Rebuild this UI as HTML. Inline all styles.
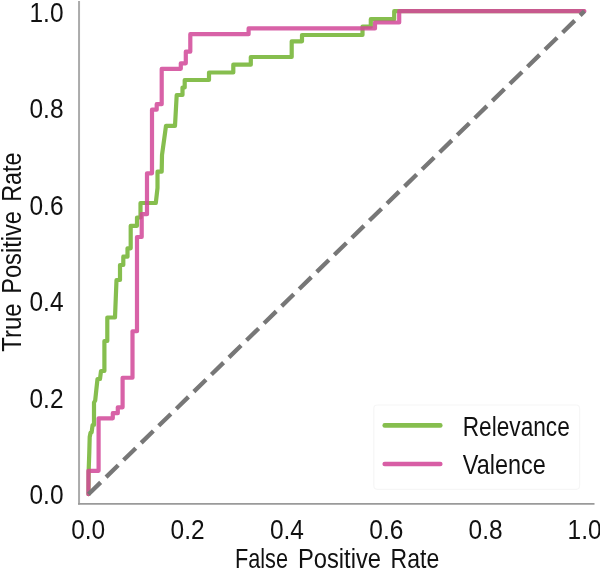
<!DOCTYPE html>
<html>
<head>
<meta charset="utf-8">
<title>ROC curve</title>
<style>
html,body{margin:0;padding:0;background:#fff;}
body{width:600px;height:569px;overflow:hidden;}
svg{display:block;will-change:transform;}
text{font-family:"Liberation Sans",sans-serif;fill:#111;}
</style>
</head>
<body>
<svg width="600" height="569" viewBox="0 0 600 569">
<rect x="0" y="0" width="600" height="569" fill="#ffffff"/>

<!-- spines -->
<line x1="79.05" y1="1" x2="79.05" y2="504.6" stroke="#ababab" stroke-width="2"/>
<line x1="78" y1="503.8" x2="594.5" y2="503.8" stroke="#9a9a9a" stroke-width="1.7"/>

<!-- legend box -->
<rect x="373.8" y="405" width="205.8" height="84.3" rx="3.5" ry="3.5" fill="#ffffff" stroke="#f6f6f6" stroke-width="1.2"/>

<!-- green curve (Relevance) -->
<path id="green" fill="none" stroke="#86be4e" stroke-width="4.2" stroke-linejoin="round" stroke-linecap="round"
 d="M88.5,494.2 L88.7,470 L89.3,452 L89.7,437 L90.6,432.5 H91.6 L92.6,425 H94 V402.5 L95.2,400.5 L96.3,390 L97.5,379 H100 L101,371 H104.4 V341 H107.3 V317.5 H115 L116.5,280 H120 V265 H123.3 V256.7 H127.5 V248.3 H130.7 V225.8 H137 V217.5 H140.5 V203 H155.8 L157.5,188 V171.7 H161.7 L162,155 L165,133.3 L166,125.8 H175 L176.7,95 H182.5 V87.5 H184.7 V80 H209 V72.5 H233.3 V64.7 H250.8 V57 H291.7 V41.3 H302 V35 H362.5 V26.7 H370.8 V19.2 H394.2 V11.2 H583.4"/>

<!-- pink curve (Valence) -->
<path id="pink" fill="none" stroke="#d24898" stroke-opacity="0.86" stroke-width="4.2" stroke-linejoin="round" stroke-linecap="round"
 d="M88.4,494.2 V470.8 H98.6 V418.3 H112.8 V413.2 H117.8 V407.3 H122.6 V377.75 H132.5 V331.25 H137 V237 H141.7 V214.2 H147 V173.3 H152 V109.7 H156.7 V104.2 H161.7 V68.8 H180.8 V63.3 H185.8 V51.7 H190.3 V34.2 H248.6 V28.4 H375 V22.5 H399.2 V11.2 H584.4"/>

<!-- diagonal -->
<line x1="88.5" y1="494.2" x2="584.4" y2="11.2" stroke="#777777" stroke-width="4.3" stroke-dasharray="16.95 7.56"/>

<!-- legend handles -->
<line x1="384.7" y1="425.4" x2="440.3" y2="425.4" stroke="#86be4e" stroke-width="4.6" stroke-linecap="round"/>
<line x1="384.7" y1="464" x2="440.3" y2="464" stroke="#d85ea5" stroke-width="4.6" stroke-linecap="round"/>

<!-- text words -->
<text x="235.00" y="568.4" font-size="27.5" textLength="53.01" lengthAdjust="spacingAndGlyphs">False</text>
<text x="297.90" y="568.4" font-size="27.5" textLength="83.19" lengthAdjust="spacingAndGlyphs">Positive</text>
<text x="390.60" y="568.4" font-size="27.5" textLength="48.59" lengthAdjust="spacingAndGlyphs">Rate</text>
<text x="462.70" y="435.8" font-size="27.5" textLength="107.10" lengthAdjust="spacingAndGlyphs">Relevance</text>
<text x="462.80" y="474.0" font-size="27.5" textLength="82.90" lengthAdjust="spacingAndGlyphs">Valence</text>
<text transform="translate(20.6,351.70) rotate(-90)" font-size="27.5" textLength="48.19" lengthAdjust="spacingAndGlyphs">True</text>
<text transform="translate(20.6,293.80) rotate(-90)" font-size="27.5" textLength="82.78" lengthAdjust="spacingAndGlyphs">Positive</text>
<text transform="translate(20.6,201.80) rotate(-90)" font-size="27.5" textLength="49.44" lengthAdjust="spacingAndGlyphs">Rate</text>

<!-- y tick labels -->
<g font-size="27.5" text-anchor="end">
<text x="63.5" y="21.6" textLength="34" lengthAdjust="spacingAndGlyphs">1.0</text>
<text x="63.5" y="118.4" textLength="34" lengthAdjust="spacingAndGlyphs">0.8</text>
<text x="63.5" y="214.8" textLength="34" lengthAdjust="spacingAndGlyphs">0.6</text>
<text x="63.5" y="311.3" textLength="34" lengthAdjust="spacingAndGlyphs">0.4</text>
<text x="63.5" y="407.7" textLength="34" lengthAdjust="spacingAndGlyphs">0.2</text>
<text x="63.5" y="504.2" textLength="34" lengthAdjust="spacingAndGlyphs">0.0</text>
</g>

<!-- x tick labels -->
<g font-size="27.5" text-anchor="middle">
<text x="88.2" y="539.3" textLength="34" lengthAdjust="spacingAndGlyphs">0.0</text>
<text x="187.6" y="539.3" textLength="34" lengthAdjust="spacingAndGlyphs">0.2</text>
<text x="286.9" y="539.3" textLength="34" lengthAdjust="spacingAndGlyphs">0.4</text>
<text x="386.3" y="539.3" textLength="34" lengthAdjust="spacingAndGlyphs">0.6</text>
<text x="485.6" y="539.3" textLength="34" lengthAdjust="spacingAndGlyphs">0.8</text>
<text x="584.6" y="539.3" textLength="34" lengthAdjust="spacingAndGlyphs">1.0</text>
</g>

</svg>
</body>
</html>
